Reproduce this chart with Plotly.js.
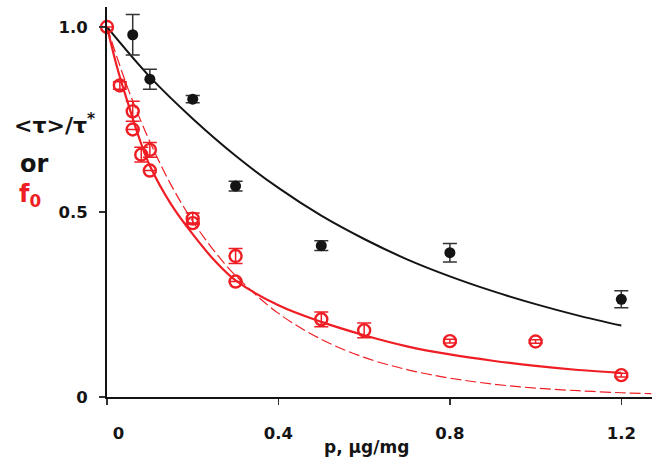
<!DOCTYPE html>
<html>
<head>
<meta charset="utf-8">
<script src="https://cdn.plot.ly/plotly-3.0.1.min.js"></script>
<style>html,body{margin:0;padding:0;background:#fff}#chart{width:659px;height:460px}</style>
</head>
<body>
<div id="chart"></div>
<script>
// Black filled points: <tau>/tau*
const blackX = [0.06, 0.1, 0.2, 0.3, 0.5, 0.8, 1.2];
const blackY = [0.979, 0.859, 0.805, 0.570, 0.409, 0.390, 0.264];
const blackErr = [0.055, 0.027, 0.010, 0.013, 0.013, 0.025, 0.023];

// Red open points: f0
const redX = [0, 0.03, 0.06, 0.06, 0.08, 0.1, 0.1, 0.2, 0.2, 0.3, 0.3, 0.5, 0.6, 0.8, 1.0, 1.2];
const redY = [1.0, 0.842, 0.772, 0.723, 0.655, 0.668, 0.612, 0.482, 0.470, 0.381, 0.312, 0.210, 0.180, 0.151, 0.150, 0.059];
const redErr = [0, 0.01, 0.027, 0, 0.02, 0.02, 0, 0.015, 0, 0.02, 0, 0.02, 0.02, 0.005, 0.005, 0.005];

// Fit curves
const blackFitX = [0, 0.1, 0.2, 0.3, 0.4, 0.5, 0.6, 0.7, 0.8, 0.9, 1.0, 1.1, 1.2];
const blackFitY = [1.0, 0.865, 0.752, 0.652, 0.565, 0.49, 0.427, 0.372, 0.326, 0.286, 0.251, 0.220, 0.193];

const redFitX = [0, 0.025, 0.05, 0.075, 0.1, 0.15, 0.2, 0.25, 0.3, 0.4, 0.5, 0.6, 0.7, 0.8, 0.9, 1.0, 1.1, 1.2];
const redFitY = [1.0, 0.885, 0.79, 0.70, 0.625, 0.52, 0.44, 0.37, 0.315, 0.248, 0.203, 0.167, 0.137, 0.115, 0.098, 0.084, 0.073, 0.065];

const redDashX = [0, 0.05, 0.1, 0.15, 0.2, 0.25, 0.3, 0.4, 0.5, 0.6, 0.7, 0.8, 0.9, 1.0, 1.1, 1.2, 1.27];
const redDashY = [1.0, 0.83, 0.69, 0.572, 0.475, 0.395, 0.328, 0.226, 0.156, 0.107, 0.074, 0.051, 0.035, 0.024, 0.017, 0.0115, 0.009];

const xTickVals = [0, 0.4, 0.8, 1.2];
const xTickText = ['\u00a0\u00a0\u00a0\u00a00', '0.4', '0.8', '1.2'];
const yTickVals = [0, 0.5, 1.0];
const yTickText = ['0', '0.5', '1.0'];

const RED = 'rgb(238,30,36)';
const BLK = '#141414';
const FONT = 'DejaVu Sans, Arial, sans-serif';

const traces = [
  {x: redDashX, y: redDashY, mode: 'lines', line: {color: RED, width: 1.2, dash: '11px,4px', shape: 'spline'}, hoverinfo: 'skip'},
  {x: redFitX, y: redFitY, mode: 'lines', line: {color: RED, width: 2.2, shape: 'spline'}, hoverinfo: 'skip'},
  {x: blackFitX, y: blackFitY, mode: 'lines', line: {color: BLK, width: 2, shape: 'spline'}, hoverinfo: 'skip'},
  {x: blackX, y: blackY, mode: 'markers', cliponaxis: false,
   marker: {symbol: 'circle', size: 11, color: BLK, line: {color: BLK, width: 0}},
   error_y: {type: 'data', array: blackErr, visible: true, color: '#333', thickness: 1.5, width: 7}},
  {x: redX, y: redY, mode: 'markers', cliponaxis: false,
   marker: {symbol: 'circle-open', size: 12, color: RED, line: {color: RED, width: 2.4}},
   error_y: {type: 'data', array: redErr, visible: true, color: RED, thickness: 1.5, width: 7}}
];

const layout = {
  width: 659, height: 460,
  margin: {l: 107, r: 7, t: 7, b: 63, pad: 0},
  paper_bgcolor: '#fff', plot_bgcolor: '#fff',
  showlegend: false,
  font: {family: FONT, color: BLK},
  xaxis: {
    range: [0, 1.2716], tickvals: xTickVals, ticktext: xTickText,
    showline: true, linewidth: 2, linecolor: BLK, showgrid: false, zeroline: false,
    ticks: 'outside', ticklen: 6, tickwidth: 1.5, tickcolor: '#333',
    ticklabelstandoff: 14,
    tickfont: {family: FONT, size: 16.5, color: BLK, weight: 'bold'}
  },
  yaxis: {
    range: [0, 1.054], tickvals: yTickVals, ticktext: yTickText,
    showline: true, linewidth: 2, linecolor: BLK, showgrid: false, zeroline: false,
    ticks: 'outside', ticklen: 6, tickwidth: 1.5, tickcolor: '#333',
    ticklabelstandoff: 8,
    tickfont: {family: FONT, size: 16.5, color: BLK, weight: 'bold'}
  },
  annotations: [
    {xref: 'paper', yref: 'paper', x: 0, y: 0, xshift: -95, yshift: 273, xanchor: 'left', yanchor: 'middle',
     showarrow: false, text: '&lt;τ&gt;/τ<sup>*</sup>', font: {family: FONT, size: 22, color: BLK, weight: 'bold'}},
    {xref: 'paper', yref: 'paper', x: 0, y: 0, xshift: -89, yshift: 233, xanchor: 'left', yanchor: 'middle',
     showarrow: false, text: 'or', font: {family: FONT, size: 24, color: BLK, weight: 'bold'}},
    {xref: 'paper', yref: 'paper', x: 0, y: 0, xshift: -90, yshift: 202, xanchor: 'left', yanchor: 'middle',
     showarrow: false, text: 'f<sub>0</sub>', font: {family: FONT, size: 24, color: RED, weight: 'bold'}},
    {xref: 'paper', yref: 'paper', x: 0, y: 0, xshift: 259, yshift: -50, xanchor: 'center', yanchor: 'middle',
     showarrow: false, text: 'p, μg/mg', font: {family: FONT, size: 17, color: BLK, weight: 'bold'}}
  ]
};

Plotly.newPlot('chart', traces, layout, {staticPlot: true, displayModeBar: false});
</script>
</body>
</html>
